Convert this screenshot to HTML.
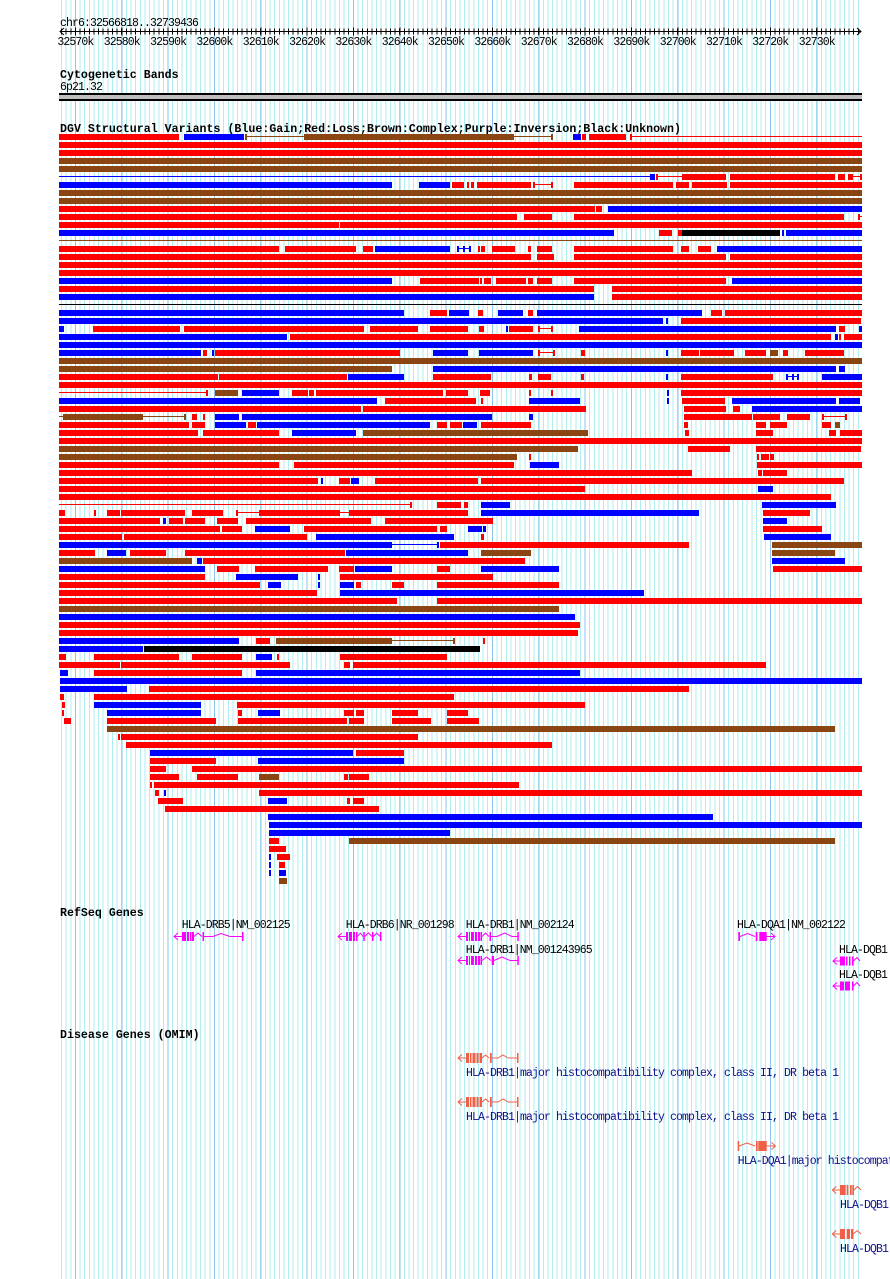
<!DOCTYPE html>
<html><head><meta charset="utf-8"><style>
html,body{margin:0;padding:0;background:#fff;width:890px;height:1279px;overflow:hidden}
svg{display:block}
.r{fill:#f00}.b{fill:#00f}.n{fill:#8b4513}.k{fill:#000}
text{font-family:"Liberation Mono",monospace;font-size:11.5px;letter-spacing:-0.9px;fill:#000}
.t{font-weight:bold;font-size:11.6px;letter-spacing:0.02px}
.o{fill:#10108c}
.g{fill:#f0f}.gs{stroke:#f0f;fill:none}
.m{fill:#f05f46}.ms{stroke:#f05f46;fill:none}
</style></head><body>
<svg width="890" height="1279" viewBox="0 0 890 1279" xmlns="http://www.w3.org/2000/svg">
<rect width="890" height="1279" fill="#fff"/>
<!-- grid -->
<path d="M61 639.5H859" stroke="#b0eef0" stroke-width="1279" stroke-dasharray="1 3.633" shape-rendering="crispEdges"/>
<path d="M75 639.5H818" stroke="#8ec4ee" stroke-width="1279" stroke-dasharray="1 45.33" shape-rendering="crispEdges"/>

<!-- ruler -->
<text x="60" y="26">chr6:32566818..32739436</text>
<line x1="60" y1="31.5" x2="861" y2="31.5" stroke="#000"/>
<path d="M61 31.5H859" stroke="#000" stroke-width="6" stroke-dasharray="1 3.633" shape-rendering="crispEdges"/>
<path d="M75 31.5H818" stroke="#000" stroke-width="8" stroke-dasharray="1 45.33" shape-rendering="crispEdges"/>
<polyline points="64,28 60,31.5 64,35" stroke="#000" fill="none"/>
<polyline points="857,28 861,31.5 857,35" stroke="#000" fill="none"/>
<g text-anchor="middle">
<text x="75.4" y="45">32570k</text><text x="121.7" y="45">32580k</text><text x="168.1" y="45">32590k</text><text x="214.4" y="45">32600k</text><text x="260.7" y="45">32610k</text><text x="307.1" y="45">32620k</text><text x="353.4" y="45">32630k</text><text x="399.7" y="45">32640k</text><text x="446" y="45">32650k</text><text x="492.4" y="45">32660k</text><text x="538.7" y="45">32670k</text><text x="585" y="45">32680k</text><text x="631.4" y="45">32690k</text><text x="677.7" y="45">32700k</text><text x="724" y="45">32710k</text><text x="770.3" y="45">32720k</text><text x="816.7" y="45">32730k</text>
</g>

<!-- cytoband -->
<text class="t" x="60" y="78">Cytogenetic Bands</text>
<text x="60" y="90">6p21.32</text>
<rect x="59" y="93" width="803" height="8" fill="#000"/>
<rect x="59" y="95" width="803" height="4" fill="#bebebe"/>

<!-- DGV -->
<text class="t" x="60" y="132">DGV Structural Variants (Blue:Gain;Red:Loss;Brown:Complex;Purple:Inversion;Black:Unknown)</text>
<g shape-rendering="crispEdges">
<g transform="translate(0,134)"><rect class="r" x="59" width="120" height="6"/><rect class="b" x="184" width="60" height="6"/><rect class="n" x="245" width="2" height="6"/><rect class="n" x="247" y="2" width="57" height="1"/><rect class="n" x="304" width="210" height="6"/><rect class="n" x="514" y="2" width="37" height="1"/><rect class="n" x="551" width="2" height="6"/><rect class="b" x="573" width="8" height="6"/><rect class="r" x="582" width="4" height="6"/><rect class="r" x="589" width="37" height="6"/><rect class="r" x="630" width="2" height="6"/><rect class="r" x="632" y="2" width="230" height="1"/></g>
<g transform="translate(0,142)"><rect class="r" x="59" width="803" height="6"/></g>
<g transform="translate(0,150)"><rect class="r" x="59" width="803" height="6"/></g>
<g transform="translate(0,158)"><rect class="n" x="59" width="803" height="6"/></g>
<g transform="translate(0,166)"><rect class="n" x="59" width="803" height="6"/></g>
<g transform="translate(0,174)"><rect class="b" x="59" y="2" width="591" height="1"/><rect class="b" x="650" width="5" height="6"/><rect class="r" x="656" width="2" height="6"/><rect class="r" x="658" y="2" width="24" height="1"/><rect class="r" x="682" width="44" height="6"/><rect class="r" x="730" width="105" height="6"/><rect class="r" x="838" width="7" height="6"/><rect class="r" x="848" width="5" height="6"/><rect class="r" x="853" y="2" width="7" height="1"/><rect class="r" x="860" width="2" height="6"/></g>
<g transform="translate(0,182)"><rect class="b" x="59" width="333" height="6"/><rect class="b" x="419" width="31" height="6"/><rect class="r" x="452" width="12" height="6"/><rect class="r" x="467" width="2" height="6"/><rect class="r" x="471" width="3" height="6"/><rect class="r" x="477" width="54" height="6"/><rect class="r" x="533" width="2" height="6"/><rect class="r" x="535" y="2" width="17" height="1"/><rect class="r" x="551" width="2" height="6"/><rect class="r" x="574" width="99" height="6"/><rect class="r" x="676" width="13" height="6"/><rect class="r" x="692" width="35" height="6"/><rect class="r" x="730" width="132" height="6"/></g>
<g transform="translate(0,190)"><rect class="n" x="59" width="803" height="6"/></g>
<g transform="translate(0,198)"><rect class="n" x="59" width="803" height="6"/></g>
<g transform="translate(0,206)"><rect class="r" x="59" width="536" height="6"/><rect class="r" x="596" width="6" height="6"/><rect class="b" x="608" width="254" height="6"/></g>
<g transform="translate(0,214)"><rect class="r" x="59" width="458" height="6"/><rect class="r" x="524" width="28" height="6"/><rect class="r" x="574" width="270" height="6"/><rect class="r" x="858" width="2" height="6"/><rect class="r" x="860" y="2" width="2" height="1"/></g>
<g transform="translate(0,222)"><rect class="r" x="59" width="280" height="6"/><rect class="r" x="340" width="522" height="6"/></g>
<g transform="translate(0,230)"><rect class="b" x="59" width="555" height="6"/><rect class="r" x="659" width="13" height="6"/><rect class="r" x="678" width="4" height="6"/><rect class="k" x="682" width="98" height="6"/><rect class="b" x="782" width="2" height="6"/><rect class="b" x="786" width="76" height="6"/></g>
<g transform="translate(0,238)"><rect class="n" x="59" y="2" width="803" height="1"/></g>
<g transform="translate(0,246)"><rect class="r" x="59" width="220" height="6"/><rect class="r" x="285" width="71" height="6"/><rect class="r" x="363" width="10" height="6"/><rect class="b" x="375" width="75" height="6"/><rect class="b" x="457" width="2" height="6"/><rect class="b" x="459" y="2" width="12" height="1"/><rect class="b" x="463" width="2" height="6"/><rect class="b" x="469" width="2" height="6"/><rect class="r" x="478" width="2" height="6"/><rect class="r" x="481" width="4" height="6"/><rect class="r" x="492" width="23" height="6"/><rect class="r" x="528" width="3" height="6"/><rect class="r" x="537" width="15" height="6"/><rect class="r" x="574" width="99" height="6"/><rect class="r" x="681" width="8" height="6"/><rect class="r" x="698" width="13" height="6"/><rect class="b" x="717" width="145" height="6"/></g>
<g transform="translate(0,254)"><rect class="r" x="59" width="472" height="6"/><rect class="r" x="537" width="17" height="6"/><rect class="r" x="574" width="152" height="6"/><rect class="r" x="730" width="132" height="6"/></g>
<g transform="translate(0,262)"><rect class="r" x="59" width="803" height="6"/></g>
<g transform="translate(0,270)"><rect class="r" x="59" width="803" height="6"/></g>
<g transform="translate(0,278)"><rect class="b" x="59" width="333" height="6"/><rect class="r" x="420" width="59" height="6"/><rect class="r" x="480" width="2" height="6"/><rect class="r" x="484" width="7" height="6"/><rect class="r" x="496" width="30" height="6"/><rect class="r" x="528" width="5" height="6"/><rect class="r" x="537" width="15" height="6"/><rect class="r" x="574" width="152" height="6"/><rect class="b" x="732" width="130" height="6"/></g>
<g transform="translate(0,286)"><rect class="r" x="59" width="535" height="6"/><rect class="r" x="612" width="250" height="6"/></g>
<g transform="translate(0,294)"><rect class="b" x="59" width="535" height="6"/><rect class="r" x="612" width="250" height="6"/></g>
<g transform="translate(0,302)"><rect class="k" x="59" y="2" width="803" height="1"/></g>
<g transform="translate(0,310)"><rect class="b" x="59" width="345" height="6"/><rect class="r" x="430" width="17" height="6"/><rect class="b" x="449" width="20" height="6"/><rect class="r" x="478" width="5" height="6"/><rect class="b" x="498" width="25" height="6"/><rect class="r" x="528" width="5" height="6"/><rect class="b" x="537" width="165" height="6"/><rect class="r" x="711" width="11" height="6"/><rect class="r" x="725" width="137" height="6"/></g>
<g transform="translate(0,318)"><rect class="b" x="59" width="604" height="6"/><rect class="b" x="666" width="2" height="6"/><rect class="r" x="681" width="180" height="6"/></g>
<g transform="translate(0,326)"><rect class="b" x="59" width="5" height="6"/><rect class="r" x="93" width="87" height="6"/><rect class="r" x="184" width="180" height="6"/><rect class="r" x="370" width="48" height="6"/><rect class="r" x="430" width="38" height="6"/><rect class="r" x="479" width="5" height="6"/><rect class="b" x="506" width="2" height="6"/><rect class="r" x="509" width="24" height="6"/><rect class="r" x="538" width="2" height="6"/><rect class="r" x="540" y="2" width="11" height="1"/><rect class="r" x="551" width="2" height="6"/><rect class="b" x="579" width="257" height="6"/><rect class="r" x="839" width="6" height="6"/><rect class="b" x="859" width="3" height="6"/></g>
<g transform="translate(0,334)"><rect class="b" x="59" width="228" height="6"/><rect class="r" x="290" width="541" height="6"/><rect class="b" x="835" width="3" height="6"/><rect class="r" x="839" width="2" height="6"/><rect class="r" x="844" width="18" height="6"/></g>
<g transform="translate(0,342)"><rect class="b" x="59" width="803" height="6"/></g>
<g transform="translate(0,350)"><rect class="b" x="59" width="142" height="6"/><rect class="r" x="203" width="4" height="6"/><rect class="b" x="212" width="2" height="6"/><rect class="r" x="215" width="185" height="6"/><rect class="b" x="433" width="35" height="6"/><rect class="b" x="479" width="54" height="6"/><rect class="r" x="538" width="2" height="6"/><rect class="r" x="540" y="2" width="13" height="1"/><rect class="r" x="553" width="2" height="6"/><rect class="r" x="581" width="4" height="6"/><rect class="b" x="666" width="2" height="6"/><rect class="r" x="681" width="18" height="6"/><rect class="r" x="700" width="34" height="6"/><rect class="r" x="745" width="21" height="6"/><rect class="n" x="770" width="8" height="6"/><rect class="r" x="783" width="5" height="6"/><rect class="r" x="805" width="39" height="6"/></g>
<g transform="translate(0,358)"><rect class="n" x="59" width="803" height="6"/></g>
<g transform="translate(0,366)"><rect class="n" x="59" width="333" height="6"/><rect class="b" x="433" width="403" height="6"/><rect class="b" x="839" width="6" height="6"/></g>
<g transform="translate(0,374)"><rect class="r" x="59" width="159" height="6"/><rect class="r" x="219" width="128" height="6"/><rect class="b" x="348" width="56" height="6"/><rect class="r" x="433" width="58" height="6"/><rect class="r" x="529" width="3" height="6"/><rect class="r" x="538" width="13" height="6"/><rect class="r" x="581" width="3" height="6"/><rect class="b" x="666" width="2" height="6"/><rect class="r" x="681" width="92" height="6"/><rect class="b" x="786" width="2" height="6"/><rect class="b" x="788" y="2" width="11" height="1"/><rect class="b" x="792" width="2" height="6"/><rect class="b" x="797" width="2" height="6"/><rect class="b" x="822" width="40" height="6"/></g>
<g transform="translate(0,382)"><rect class="r" x="59" width="803" height="6"/></g>
<g transform="translate(0,390)"><rect class="r" x="59" y="2" width="147" height="1"/><rect class="r" x="206" width="2" height="6"/><rect class="n" x="215" width="23" height="6"/><rect class="b" x="242" width="37" height="6"/><rect class="r" x="292" width="16" height="6"/><rect class="r" x="309" width="5" height="6"/><rect class="r" x="316" width="127" height="6"/><rect class="r" x="446" width="22" height="6"/><rect class="r" x="480" width="10" height="6"/><rect class="r" x="529" width="2" height="6"/><rect class="r" x="551" width="2" height="6"/><rect class="b" x="667" width="2" height="6"/><rect class="r" x="681" width="181" height="6"/></g>
<g transform="translate(0,398)"><rect class="b" x="59" width="318" height="6"/><rect class="r" x="385" width="91" height="6"/><rect class="r" x="481" width="2" height="6"/><rect class="b" x="529" width="51" height="6"/><rect class="b" x="667" width="2" height="6"/><rect class="r" x="682" width="43" height="6"/><rect class="b" x="732" width="104" height="6"/><rect class="b" x="839" width="21" height="6"/></g>
<g transform="translate(0,406)"><rect class="r" x="59" width="302" height="6"/><rect class="r" x="363" width="223" height="6"/><rect class="r" x="684" width="42" height="6"/><rect class="r" x="733" width="7" height="6"/><rect class="b" x="752" width="110" height="6"/></g>
<g transform="translate(0,414)"><rect class="n" x="59" y="2" width="4" height="1"/><rect class="n" x="63" width="80" height="6"/><rect class="n" x="143" y="2" width="41" height="1"/><rect class="n" x="184" width="2" height="6"/><rect class="r" x="192" width="5" height="6"/><rect class="r" x="203" width="2" height="6"/><rect class="b" x="215" width="24" height="6"/><rect class="b" x="242" width="250" height="6"/><rect class="b" x="529" width="4" height="6"/><rect class="r" x="684" width="68" height="6"/><rect class="r" x="753" width="27" height="6"/><rect class="r" x="787" width="23" height="6"/><rect class="r" x="822" width="2" height="6"/><rect class="r" x="824" y="2" width="22" height="1"/><rect class="r" x="845" width="2" height="6"/></g>
<g transform="translate(0,422)"><rect class="r" x="59" width="130" height="6"/><rect class="r" x="192" width="13" height="6"/><rect class="b" x="215" width="31" height="6"/><rect class="r" x="248" width="8" height="6"/><rect class="b" x="257" width="173" height="6"/><rect class="r" x="437" width="10" height="6"/><rect class="r" x="450" width="12" height="6"/><rect class="b" x="463" width="14" height="6"/><rect class="r" x="481" width="50" height="6"/><rect class="r" x="684" width="4" height="6"/><rect class="r" x="756" width="10" height="6"/><rect class="r" x="770" width="17" height="6"/><rect class="r" x="822" width="9" height="6"/><rect class="n" x="835" width="5" height="6"/></g>
<g transform="translate(0,430)"><rect class="r" x="59" width="139" height="6"/><rect class="r" x="203" width="76" height="6"/><rect class="b" x="292" width="64" height="6"/><rect class="n" x="363" width="225" height="6"/><rect class="r" x="685" width="4" height="6"/><rect class="r" x="756" width="17" height="6"/><rect class="r" x="829" width="7" height="6"/><rect class="r" x="840" width="22" height="6"/></g>
<g transform="translate(0,438)"><rect class="r" x="59" width="803" height="6"/></g>
<g transform="translate(0,446)"><rect class="n" x="59" width="519" height="6"/><rect class="r" x="688" width="42" height="6"/><rect class="r" x="756" width="105" height="6"/></g>
<g transform="translate(0,454)"><rect class="n" x="59" width="458" height="6"/><rect class="r" x="529" width="2" height="6"/><rect class="r" x="757" width="2" height="6"/><rect class="r" x="761" width="8" height="6"/><rect class="r" x="770" width="4" height="6"/></g>
<g transform="translate(0,462)"><rect class="r" x="59" width="220" height="6"/><rect class="r" x="294" width="220" height="6"/><rect class="b" x="530" width="29" height="6"/><rect class="r" x="757" width="105" height="6"/></g>
<g transform="translate(0,470)"><rect class="r" x="59" width="633" height="6"/><rect class="r" x="758" width="4" height="6"/><rect class="r" x="763" width="24" height="6"/></g>
<g transform="translate(0,478)"><rect class="r" x="59" width="259" height="6"/><rect class="b" x="321" width="2" height="6"/><rect class="r" x="339" width="11" height="6"/><rect class="b" x="351" width="8" height="6"/><rect class="r" x="375" width="103" height="6"/><rect class="r" x="481" width="363" height="6"/></g>
<g transform="translate(0,486)"><rect class="r" x="59" width="526" height="6"/><rect class="b" x="758" width="15" height="6"/></g>
<g transform="translate(0,494)"><rect class="r" x="59" width="772" height="6"/></g>
<g transform="translate(0,502)"><rect class="r" x="59" y="2" width="351" height="1"/><rect class="r" x="410" width="2" height="6"/><rect class="r" x="437" width="24" height="6"/><rect class="r" x="464" width="4" height="6"/><rect class="b" x="481" width="29" height="6"/><rect class="b" x="762" width="74" height="6"/></g>
<g transform="translate(0,510)"><rect class="r" x="59" width="6" height="6"/><rect class="r" x="94" width="2" height="6"/><rect class="r" x="107" width="13" height="6"/><rect class="r" x="121" width="64" height="6"/><rect class="r" x="192" width="31" height="6"/><rect class="r" x="236" width="2" height="6"/><rect class="r" x="238" y="2" width="21" height="1"/><rect class="r" x="259" width="81" height="6"/><rect class="r" x="340" y="2" width="9" height="1"/><rect class="r" x="349" width="119" height="6"/><rect class="b" x="481" width="218" height="6"/><rect class="r" x="763" width="47" height="6"/></g>
<g transform="translate(0,518)"><rect class="r" x="59" width="101" height="6"/><rect class="b" x="163" width="3" height="6"/><rect class="r" x="169" width="14" height="6"/><rect class="r" x="185" width="20" height="6"/><rect class="r" x="217" width="21" height="6"/><rect class="r" x="246" width="125" height="6"/><rect class="r" x="385" width="108" height="6"/><rect class="b" x="763" width="24" height="6"/></g>
<g transform="translate(0,526)"><rect class="r" x="59" width="161" height="6"/><rect class="r" x="222" width="20" height="6"/><rect class="b" x="255" width="35" height="6"/><rect class="r" x="304" width="133" height="6"/><rect class="r" x="440" width="7" height="6"/><rect class="b" x="468" width="14" height="6"/><rect class="b" x="483" width="3" height="6"/><rect class="r" x="763" width="59" height="6"/></g>
<g transform="translate(0,534)"><rect class="r" x="59" width="63" height="6"/><rect class="r" x="124" width="183" height="6"/><rect class="b" x="316" width="138" height="6"/><rect class="r" x="481" width="3" height="6"/><rect class="b" x="764" width="67" height="6"/></g>
<g transform="translate(0,542)"><rect class="b" x="59" width="333" height="6"/><rect class="b" x="392" y="2" width="45" height="1"/><rect class="b" x="437" width="2" height="6"/><rect class="r" x="440" width="249" height="6"/><rect class="n" x="772" width="90" height="6"/></g>
<g transform="translate(0,550)"><rect class="r" x="59" width="36" height="6"/><rect class="b" x="107" width="19" height="6"/><rect class="r" x="130" width="36" height="6"/><rect class="r" x="185" width="160" height="6"/><rect class="b" x="346" width="122" height="6"/><rect class="n" x="481" width="50" height="6"/><rect class="n" x="772" width="63" height="6"/></g>
<g transform="translate(0,558)"><rect class="n" x="59" width="133" height="6"/><rect class="b" x="197" width="5" height="6"/><rect class="r" x="203" width="322" height="6"/><rect class="b" x="772" width="73" height="6"/></g>
<g transform="translate(0,566)"><rect class="b" x="59" width="146" height="6"/><rect class="r" x="217" width="22" height="6"/><rect class="r" x="255" width="73" height="6"/><rect class="r" x="339" width="15" height="6"/><rect class="b" x="355" width="37" height="6"/><rect class="r" x="437" width="13" height="6"/><rect class="b" x="481" width="78" height="6"/><rect class="r" x="773" width="89" height="6"/></g>
<g transform="translate(0,574)"><rect class="r" x="59" width="146" height="6"/><rect class="b" x="236" width="62" height="6"/><rect class="b" x="318" width="2" height="6"/><rect class="r" x="340" width="153" height="6"/></g>
<g transform="translate(0,582)"><rect class="r" x="59" width="201" height="6"/><rect class="b" x="268" width="13" height="6"/><rect class="b" x="318" width="2" height="6"/><rect class="b" x="340" width="14" height="6"/><rect class="r" x="356" width="5" height="6"/><rect class="r" x="392" width="12" height="6"/><rect class="r" x="437" width="122" height="6"/></g>
<g transform="translate(0,590)"><rect class="r" x="59" width="258" height="6"/><rect class="b" x="340" width="304" height="6"/></g>
<g transform="translate(0,598)"><rect class="r" x="59" width="338" height="6"/><rect class="r" x="437" width="425" height="6"/></g>
<g transform="translate(0,606)"><rect class="n" x="59" width="500" height="6"/></g>
<g transform="translate(0,614)"><rect class="b" x="59" width="516" height="6"/></g>
<g transform="translate(0,622)"><rect class="r" x="59" width="521" height="6"/></g>
<g transform="translate(0,630)"><rect class="r" x="59" width="519" height="6"/></g>
<g transform="translate(0,638)"><rect class="b" x="59" width="180" height="6"/><rect class="r" x="256" width="14" height="6"/><rect class="n" x="276" width="116" height="6"/><rect class="n" x="392" y="2" width="61" height="1"/><rect class="n" x="453" width="2" height="6"/><rect class="r" x="483" width="2" height="6"/></g>
<g transform="translate(0,646)"><rect class="b" x="59" width="84" height="6"/><rect class="k" x="144" width="336" height="6"/></g>
<g transform="translate(0,654)"><rect class="r" x="59" width="7" height="6"/><rect class="r" x="94" width="85" height="6"/><rect class="r" x="192" width="50" height="6"/><rect class="b" x="256" width="16" height="6"/><rect class="r" x="277" width="2" height="6"/><rect class="r" x="340" width="107" height="6"/></g>
<g transform="translate(0,662)"><rect class="r" x="59" width="61" height="6"/><rect class="r" x="121" width="169" height="6"/><rect class="r" x="344" width="6" height="6"/><rect class="r" x="353" width="413" height="6"/></g>
<g transform="translate(0,670)"><rect class="b" x="60" width="8" height="6"/><rect class="r" x="94" width="148" height="6"/><rect class="b" x="256" width="324" height="6"/></g>
<g transform="translate(0,678)"><rect class="b" x="60" width="802" height="6"/></g>
<g transform="translate(0,686)"><rect class="b" x="60" width="67" height="6"/><rect class="r" x="149" width="540" height="6"/></g>
<g transform="translate(0,694)"><rect class="r" x="60" width="4" height="6"/><rect class="r" x="94" width="360" height="6"/></g>
<g transform="translate(0,702)"><rect class="r" x="62" width="3" height="6"/><rect class="b" x="94" width="107" height="6"/><rect class="r" x="237" width="348" height="6"/></g>
<g transform="translate(0,710)"><rect class="r" x="62" width="2" height="6"/><rect class="b" x="107" width="94" height="6"/><rect class="r" x="238" width="4" height="6"/><rect class="b" x="258" width="22" height="6"/><rect class="r" x="344" width="10" height="6"/><rect class="r" x="356" width="8" height="6"/><rect class="r" x="392" width="26" height="6"/><rect class="r" x="447" width="21" height="6"/></g>
<g transform="translate(0,718)"><rect class="r" x="64" width="7" height="6"/><rect class="r" x="107" width="109" height="6"/><rect class="r" x="238" width="109" height="6"/><rect class="r" x="349" width="15" height="6"/><rect class="r" x="392" width="39" height="6"/><rect class="r" x="447" width="32" height="6"/></g>
<g transform="translate(0,726)"><rect class="n" x="107" width="728" height="6"/></g>
<g transform="translate(0,734)"><rect class="r" x="118" width="2" height="6"/><rect class="r" x="121" width="297" height="6"/></g>
<g transform="translate(0,742)"><rect class="r" x="126" width="426" height="6"/></g>
<g transform="translate(0,750)"><rect class="b" x="150" width="203" height="6"/><rect class="r" x="356" width="48" height="6"/></g>
<g transform="translate(0,758)"><rect class="r" x="150" width="66" height="6"/><rect class="b" x="258" width="146" height="6"/></g>
<g transform="translate(0,766)"><rect class="r" x="150" width="16" height="6"/><rect class="r" x="192" width="670" height="6"/></g>
<g transform="translate(0,774)"><rect class="r" x="150" width="29" height="6"/><rect class="r" x="197" width="41" height="6"/><rect class="n" x="259" width="20" height="6"/><rect class="r" x="344" width="4" height="6"/><rect class="r" x="349" width="20" height="6"/></g>
<g transform="translate(0,782)"><rect class="r" x="150" width="2" height="6"/><rect class="r" x="154" width="365" height="6"/></g>
<g transform="translate(0,790)"><rect class="r" x="155" width="4" height="6"/><rect class="b" x="164" width="2" height="6"/><rect class="r" x="259" width="603" height="6"/></g>
<g transform="translate(0,798)"><rect class="r" x="158" width="25" height="6"/><rect class="b" x="268" width="19" height="6"/><rect class="r" x="347" width="3" height="6"/><rect class="r" x="353" width="11" height="6"/></g>
<g transform="translate(0,806)"><rect class="r" x="165" width="214" height="6"/></g>
<g transform="translate(0,814)"><rect class="b" x="268" width="445" height="6"/></g>
<g transform="translate(0,822)"><rect class="b" x="269" width="593" height="6"/></g>
<g transform="translate(0,830)"><rect class="b" x="269" width="181" height="6"/></g>
<g transform="translate(0,838)"><rect class="r" x="269" width="10" height="6"/><rect class="n" x="349" width="486" height="6"/></g>
<g transform="translate(0,846)"><rect class="r" x="269" width="17" height="6"/></g>
<g transform="translate(0,854)"><rect class="b" x="269" width="2" height="6"/><rect class="r" x="277" width="13" height="6"/></g>
<g transform="translate(0,862)"><rect class="b" x="269" width="2" height="6"/><rect class="r" x="279" width="6" height="6"/></g>
<g transform="translate(0,870)"><rect class="b" x="269" width="2" height="6"/><rect class="b" x="279" width="7" height="6"/></g>
<g transform="translate(0,878)"><rect class="n" x="279" width="8" height="6"/></g>
</g>

<!-- RefSeq Genes -->
<text class="t" x="60" y="916">RefSeq Genes</text>
<text x="181.7" y="928">HLA-DRB5|NM_002125</text>
<text x="345.7" y="928">HLA-DRB6|NR_001298</text>
<text x="465.7" y="928">HLA-DRB1|NM_002124</text>
<text x="465.7" y="953">HLA-DRB1|NM_001243965</text>
<text x="737" y="928">HLA-DQA1|NM_002122</text>
<text x="839" y="953">HLA-DQB1</text>
<text x="839" y="978">HLA-DQB1</text>

<!-- DRB5 -->
<g>
<polyline class="gs" points="178,933 174,936.5 178,940"/>
<path class="gs" d="M174 936.5H182M204 936.5H213M230 936.5H242"/>
<polyline class="gs" points="194,936.5 198,933 202,936.5"/>
<polyline class="gs" points="213,936.5 221,933.5 230,936.5"/>
<rect class="g" x="182" y="932" width="4" height="9"/><rect class="g" x="187" y="932" width="2" height="9"/><rect class="g" x="190" y="932" width="1.5" height="9"/><rect class="g" x="192" y="932" width="2" height="9"/><rect class="g" x="202.5" y="932" width="1.5" height="9"/><rect class="g" x="242" y="932" width="1.5" height="9"/>
</g>
<!-- DRB6 -->
<g>
<polyline class="gs" points="342,933 338,936.5 342,940"/>
<path class="gs" d="M338 936.5H346"/>
<polyline class="gs" points="357.5,936.5 360.3,933 363,936.5"/>
<polyline class="gs" points="364.8,936.5 368.4,933 372,936.5"/>
<polyline class="gs" points="373.5,936.5 376.7,933 380,936.5"/>
<rect class="g" x="346" y="932" width="2" height="9"/><rect class="g" x="349" y="932" width="3" height="9"/><rect class="g" x="353" y="932" width="2" height="9"/><rect class="g" x="356" y="932" width="1.5" height="9"/><rect class="g" x="363.3" y="932" width="1.5" height="9"/><rect class="g" x="372" y="932" width="1.5" height="9"/><rect class="g" x="380" y="932" width="1.5" height="9"/>
</g>
<!-- DRB1 NM_002124 -->
<g>
<polyline class="gs" points="462,933 458,936.5 462,940"/>
<path class="gs" d="M458 936.5H466M491 936.5H497M512 936.5H517.5"/>
<polyline class="gs" points="482,936.5 485.5,933 489,936.5"/>
<polyline class="gs" points="497,936.5 504.5,933 512,936.5"/>
<rect class="g" x="466" y="932" width="2" height="9"/><rect class="g" x="469" y="932" width="1" height="9"/><rect class="g" x="471" y="932" width="3" height="9"/><rect class="g" x="475" y="932" width="2" height="9"/><rect class="g" x="478" y="932" width="2" height="9"/><rect class="g" x="480.5" y="932" width="1.5" height="9"/><rect class="g" x="489.5" y="932" width="1.5" height="9"/><rect class="g" x="517.3" y="932" width="1.5" height="9"/>
</g>
<!-- DRB1 NM_001243965 -->
<g>
<polyline class="gs" points="462,957 458,960.5 462,964"/>
<path class="gs" d="M458 960.5H466M510 960.5H517.5"/>
<polyline class="gs" points="482,960.5 486.5,957 491,960.5"/>
<polyline class="gs" points="494,960.5 502,957 510,960.5"/>
<rect class="g" x="466" y="956" width="2" height="9"/><rect class="g" x="469" y="956" width="1" height="9"/><rect class="g" x="471" y="956" width="3" height="9"/><rect class="g" x="475" y="956" width="2" height="9"/><rect class="g" x="478" y="956" width="2" height="9"/><rect class="g" x="480.5" y="956" width="1.5" height="9"/><rect class="g" x="491.7" y="956" width="2.3" height="9"/><rect class="g" x="517.3" y="956" width="1.5" height="9"/>
</g>
<!-- DQA1 -->
<g>
<polyline class="gs" points="740,936.5 747.5,933.5 755,936.5"/>
<path class="gs" d="M766.7 936.5H775"/>
<polyline class="gs" points="771,933 775,936.5 771,940"/>
<rect class="g" x="738.3" y="932" width="1.7" height="9"/><rect class="g" x="755.7" y="932" width="1.7" height="9"/><rect class="g" x="759.3" y="932" width="7.4" height="9"/>
</g>
<!-- DQB1 x2 -->
<g>
<polyline class="gs" points="837,957.5 833,961 837,964.5"/>
<path class="gs" d="M833 961H840"/>
<polyline class="gs" points="853.5,961 857,957.5 860,961"/>
<rect class="g" x="840" y="956.5" width="5" height="9"/><rect class="g" x="846" y="956.5" width="1.5" height="9"/><rect class="g" x="849" y="956.5" width="1.5" height="9"/><rect class="g" x="852" y="956.5" width="1.5" height="9"/>
</g>
<g>
<polyline class="gs" points="837,982.5 833,986 837,989.5"/>
<path class="gs" d="M833 986H840"/>
<polyline class="gs" points="853.5,986 857,982.5 860,986"/>
<rect class="g" x="840" y="981.5" width="4" height="9"/><rect class="g" x="845" y="981.5" width="5" height="9"/><rect class="g" x="852" y="981.5" width="1.5" height="9"/>
</g>

<!-- OMIM -->
<text class="t" x="60" y="1038">Disease Genes (OMIM)</text>
<g id="om1">
<polyline class="ms" points="462,1054.5 458,1058 462,1061.5"/>
<path class="ms" d="M458 1058H466M491.7 1058H498M508 1058H517"/>
<polyline class="ms" points="482,1058 485.5,1055 489,1058"/>
<polyline class="ms" points="498,1058 503,1055 508,1058"/>
<rect class="m" x="466" y="1053" width="3" height="10"/><rect class="m" x="470" y="1053" width="1.5" height="10"/><rect class="m" x="472.5" y="1053" width="3" height="10"/><rect class="m" x="476.5" y="1053" width="2" height="10"/><rect class="m" x="479.5" y="1053" width="2.5" height="10"/><rect class="m" x="490" y="1053" width="1.7" height="10"/><rect class="m" x="517" y="1053" width="1.5" height="10"/>
</g>
<use href="#om1" transform="translate(0,44)"/>
<text class="o" x="466" y="1076">HLA-DRB1|major histocompatibility complex, class II, DR beta 1</text>
<text class="o" x="466" y="1120">HLA-DRB1|major histocompatibility complex, class II, DR beta 1</text>
<g>
<polyline class="ms" points="739,1146 747,1143 755,1146"/>
<path class="ms" d="M766.7 1146H775.5"/>
<polyline class="ms" points="771.5,1142.5 775.5,1146 771.5,1149.5"/>
<rect class="m" x="737.7" y="1141" width="1.5" height="10"/><rect class="m" x="756" y="1141" width="1.7" height="10"/><rect class="m" x="758.3" y="1141" width="8.4" height="10"/>
</g>
<text class="o" x="737.7" y="1164">HLA-DQA1|major histocompatibility complex, class II, DQ alpha 1</text>
<g>
<polyline class="ms" points="836.3,1186.5 832.3,1190 836.3,1193.5"/>
<path class="ms" d="M832.3 1190H840"/>
<polyline class="ms" points="854,1190 857.5,1186.5 861,1190"/>
<rect class="m" x="840" y="1185" width="5.7" height="10"/><rect class="m" x="846.7" y="1185" width="1.6" height="10"/><rect class="m" x="850" y="1185" width="1.7" height="10"/><rect class="m" x="852.3" y="1185" width="1.7" height="10"/>
</g>
<text class="o" x="840" y="1208">HLA-DQB1</text>
<g>
<polyline class="ms" points="836.3,1230.5 832.3,1234 836.3,1237.5"/>
<path class="ms" d="M832.3 1234H840"/>
<polyline class="ms" points="853.3,1234 857.2,1230.5 861,1234"/>
<rect class="m" x="840" y="1229" width="5" height="10"/><rect class="m" x="846.7" y="1229" width="3.3" height="10"/><rect class="m" x="851" y="1229" width="2.3" height="10"/>
</g>
<text class="o" x="840" y="1252">HLA-DQB1</text>
</svg>
</body></html>
